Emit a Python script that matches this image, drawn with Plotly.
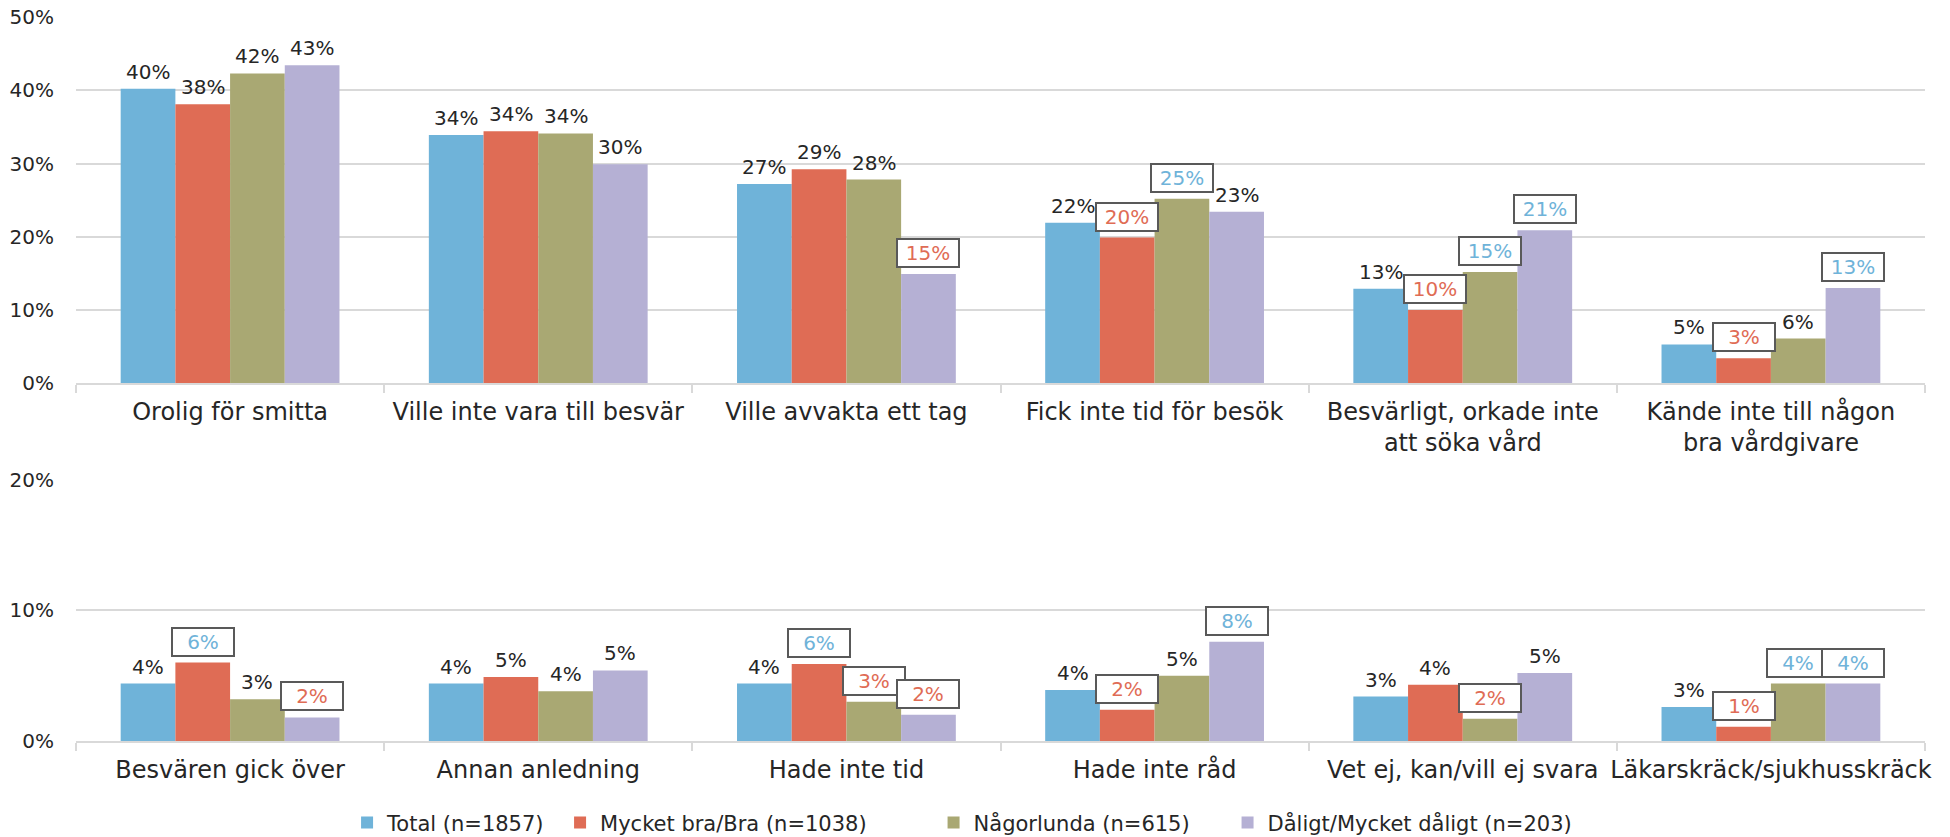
import plotly.graph_objects as go

# ---------------- data ----------------
series_names = ["Total (n=1857)", "Mycket bra/Bra (n=1038)", "Någorlunda (n=615)", "Dåligt/Mycket dåligt (n=203)"]
series_colors = ["#6fb3d9", "#df6c55", "#a9a873", "#b5b0d4"]

top_categories = ["Orolig för smitta", "Ville inte vara till besvär", "Ville avvakta ett tag",
                  "Fick inte tid för besök", "Besvärligt, orkade inte<br>att söka vård",
                  "Kände inte till någon<br>bra vårdgivare"]
bottom_categories = ["Besvären gick över", "Annan anledning", "Hade inte tid", "Hade inte råd",
                     "Vet ej, kan/vill ej svara", "Läkarskräck/sjukhusskräck"]

top_total = [0.402, 0.339, 0.272, 0.219, 0.129, 0.053]
top_bra = [0.381, 0.344, 0.292, 0.199, 0.100, 0.034]
top_nagorlunda = [0.423, 0.341, 0.278, 0.252, 0.152, 0.061]
top_daligt = [0.434, 0.299, 0.149, 0.234, 0.209, 0.130]

bottom_total = [0.044, 0.044, 0.044, 0.039, 0.034, 0.026]
bottom_bra = [0.060, 0.049, 0.059, 0.024, 0.043, 0.011]
bottom_nagorlunda = [0.032, 0.038, 0.030, 0.050, 0.017, 0.044]
bottom_daligt = [0.018, 0.054, 0.020, 0.076, 0.052, 0.044]

# significance flags: "h" = significantly higher (blue box), "l" = lower (red box), "" = plain
top_flags = [
    ["", "", "", "", "", ""],
    ["", "", "", "l", "l", "l"],
    ["", "", "", "h", "h", ""],
    ["", "", "l", "", "h", "h"],
]
bottom_flags = [
    ["", "", "", "", "", ""],
    ["h", "", "h", "l", "", "l"],
    ["", "", "l", "", "l", "h"],
    ["l", "", "l", "h", "", "h"],
]

top_values = [top_total, top_bra, top_nagorlunda, top_daligt]
bottom_values = [bottom_total, bottom_bra, bottom_nagorlunda, bottom_daligt]

# ---------------- styling ----------------
FONT = "DejaVu Sans"
TEXT = "#262626"
GRID = "#d9d9d9"
BARGAP = 0.29
BOX_BORDER = "#595959"
HI_COLOR = "#6fb3d9"
LO_COLOR = "#df6c55"
LEGEND_X = [0.1466, 0.2618, 0.4638, 0.6228]

fig = go.Figure()

legend_ids = ["legend", "legend2", "legend3", "legend4"]
for s, name in enumerate(series_names):
    fig.add_trace(go.Bar(
        x=top_categories, y=top_values[s], name=name, marker_color=series_colors[s],
        marker_line_width=0, xaxis="x", yaxis="y", legendgroup=name, showlegend=True,
        legend=legend_ids[s],
    ))
for s, name in enumerate(series_names):
    fig.add_trace(go.Bar(
        x=bottom_categories, y=bottom_values[s], name=name, marker_color=series_colors[s],
        marker_line_width=0, xaxis="x2", yaxis="y2", legendgroup=name, showlegend=False,
        legend=legend_ids[s],
    ))

bw = (1 - BARGAP) / len(series_names)
annotations = []
for vals, flags, xr, yr in [(top_values, top_flags, "x", "y"), (bottom_values, bottom_flags, "x2", "y2")]:
    for s in range(len(series_names)):
        for i, v in enumerate(vals[s]):
            txt = f"{int(v * 100 + 0.5)}%"
            xpos = i + (s - 1.5) * bw
            f = flags[s][i]
            if f == "":
                annotations.append(dict(
                    x=xpos, y=v, xref=xr, yref=yr, text=txt, showarrow=False,
                    yanchor="bottom", yshift=3, font=dict(family=FONT, size=20, color=TEXT),
                ))
            else:
                annotations.append(dict(
                    x=xpos, y=v, xref=xr, yref=yr, text=txt, showarrow=False,
                    yanchor="bottom", yshift=6,
                    font=dict(family=FONT, size=20, color=HI_COLOR if f == "h" else LO_COLOR),
                    bordercolor=BOX_BORDER, borderwidth=2, borderpad=0, bgcolor="white",
                    width=60, height=26,
                ))

xaxis_common = dict(
    type="category", tickson="boundaries", ticks="outside", ticklen=8, tickwidth=1.5,
    tickcolor=GRID, showline=True, linecolor=GRID, linewidth=1.5, showgrid=False,
    tickfont=dict(family=FONT, size=24, color=TEXT), range=[-0.5, 5.5], fixedrange=True,
    ticklabelstandoff=6, automargin=False, tickangle=0,
)
yaxis_common = dict(
    tickformat=".0%", dtick=0.1, showgrid=True, gridcolor=GRID, gridwidth=1.5,
    zeroline=False, showline=False, ticks="", ticklabelstandoff=21, automargin=False,
    tickfont=dict(family=FONT, size=20, color=TEXT),
)

legend_layout = {}
for k, lid in enumerate(legend_ids):
    legend_layout[lid] = dict(
        orientation="h", x=LEGEND_X[k], xanchor="left", y=-0.1132, yanchor="middle",
        font=dict(family=FONT, size=21, color=TEXT), itemwidth=30, bgcolor="rgba(0,0,0,0)",
    )

fig.update_layout(
    width=1950, height=837,
    margin=dict(l=76, r=25, t=17, b=95.5, autoexpand=False),
    paper_bgcolor="white", plot_bgcolor="white",
    barmode="group", bargap=BARGAP, bargroupgap=0,
    font=dict(family=FONT, color=TEXT),
    xaxis=dict(anchor="y", domain=[0, 1], **xaxis_common),
    yaxis=dict(anchor="x", domain=[0.4941, 1.0], range=[0, 0.5], **yaxis_common),
    xaxis2=dict(anchor="y2", domain=[0, 1], **xaxis_common),
    yaxis2=dict(anchor="x2", domain=[0, 0.3609], range=[0, 0.2], **yaxis_common),
    annotations=annotations,
    showlegend=True,
    **legend_layout,
)

fig.write_html("out.html", config={"displayModeBar": False},
               post_script="document.body.style.margin='0px';document.body.style.overflow='hidden';")
